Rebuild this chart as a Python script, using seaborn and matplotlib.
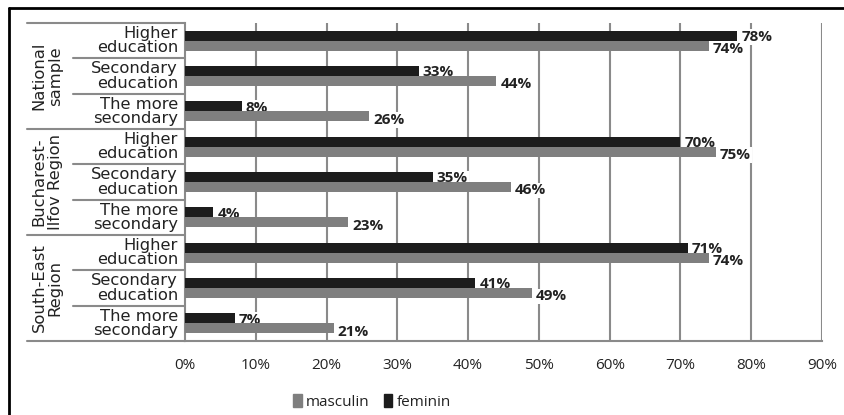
import numpy as np
import pandas as pd
import matplotlib
matplotlib.use("Agg")
import matplotlib.pyplot as plt
from matplotlib.lines import Line2D
from matplotlib.patches import Patch
import seaborn as sns

# ---- data -------------------------------------------------------------
regions = ["National\nsample", "Bucharest-\nIlfov Region", "South-East\nRegion"]
levels = ["Higher\neducation", "Secondary\neducation", "The more\nsecondary"]
masculin = [74, 44, 26, 75, 46, 23, 74, 49, 21]
feminin = [78, 33, 8, 70, 35, 4, 71, 41, 7]
xticks = [0, 10, 20, 30, 40, 50, 60, 70, 80, 90]

rows = [f"{r}|{l}" for r in regions for l in levels]
df = pd.DataFrame({
    "row": rows * 2,
    "sex": ["feminin"] * len(rows) + ["masculin"] * len(rows),
    "value": feminin + masculin,
})

# ---- styling ----------------------------------------------------------
sns.set_style("white")
plt.rcParams["font.family"] = ["DejaVu Sans"]
GRID = "#8a8a8a"
DARK = "#1c1c1c"
GRAY = "#7f7f7f"
TXT = "#222222"

W, H = 845, 415
fig = plt.figure(figsize=(W / 100, H / 100), dpi=100)
L, R, T, B = 185, 822, 23, 341
ax = fig.add_axes([L / W, 1 - B / H, (R - L) / W, (B - T) / H])

sns.barplot(data=df, x="value", y="row", hue="sex",
            hue_order=["feminin", "masculin"],
            palette={"feminin": DARK, "masculin": GRAY},
            orient="h", width=0.56, dodge=True, saturation=1,
            legend=False, ax=ax, zorder=3, linewidth=0)

ax.set_xlim(0, 90)
ax.set_ylim(len(rows) - 0.5, -0.5)
ax.set_xticks(xticks)
ax.set_xticklabels([f"{t}%" for t in xticks], family="Open Sans",
                   fontsize=11, color=TXT)
ax.tick_params(axis="x", length=5, width=1.5, color=GRID, pad=7,
               direction="out")
ax.set_yticks([])
ax.set_xlabel("")
ax.set_ylabel("")

for s in ["top", "right"]:
    ax.spines[s].set_visible(False)
for s in ["left", "bottom"]:
    ax.spines[s].set_color(GRID)
    ax.spines[s].set_linewidth(1.5)

for t in xticks[1:]:
    ax.axvline(t, color=GRID, lw=1.5, zorder=1)

# value labels at the bar ends (white box hides gridlines, bars stay on top)
for cont, vals, dy in zip(ax.containers, [feminin, masculin], [-1.0, -2.5]):
    for bar, v in zip(cont, vals):
        ax.annotate(f"{v}%", (bar.get_width(), bar.get_y() + bar.get_height() / 2),
                    xytext=(3, dy), textcoords="offset points",
                    ha="left", va="center", family="Open Sans",
                    fontweight="bold", fontsize=11, color=TXT, zorder=2.5,
                    bbox=dict(boxstyle="square,pad=0.05", fc="white", ec="none"))

# category labels and separators on the left
trans = ax.get_yaxis_transform()
px = 1 / (R - L)
for i, row in enumerate(rows):
    lvl = row.split("|")[1]
    ax.text(-7 * px, i, lvl, transform=trans, ha="right", va="center",
            ma="right", fontsize=11.8, linespacing=0.95, color=TXT)
for i in range(len(rows) + 1):
    y = i - 0.5
    x0 = -158 * px if i % 3 == 0 else -112 * px
    ax.plot([x0, 0], [y, y], transform=trans, color=GRID, lw=1.5,
            clip_on=False, zorder=2)

for g, reg in enumerate(regions):
    ax.text(-138 * px, g * 3 + 1, reg, transform=trans, rotation=90,
            ha="center", va="center", ma="center", fontsize=11.8,
            linespacing=1.1, color=TXT)

# legend
handles = [Patch(color=GRAY), Patch(color=DARK)]
fig.legend(handles, ["masculin", "feminin"], loc="center",
           bbox_to_anchor=(372 / W, 1 - 402 / H), ncol=2, frameon=False,
           prop={"family": "Open Sans", "size": 11},
           handlelength=0.55, handleheight=0.9, handletextpad=0.3,
           columnspacing=0.9, labelcolor=TXT)

# outer frame (top and left edges)
fig.add_artist(Line2D([9 / W, 1], [1 - 8 / H, 1 - 8 / H], color="black", lw=2))
fig.add_artist(Line2D([9 / W, 9 / W], [0, 1 - 8 / H], color="black", lw=2))

fig.savefig("out.png", dpi=100)
